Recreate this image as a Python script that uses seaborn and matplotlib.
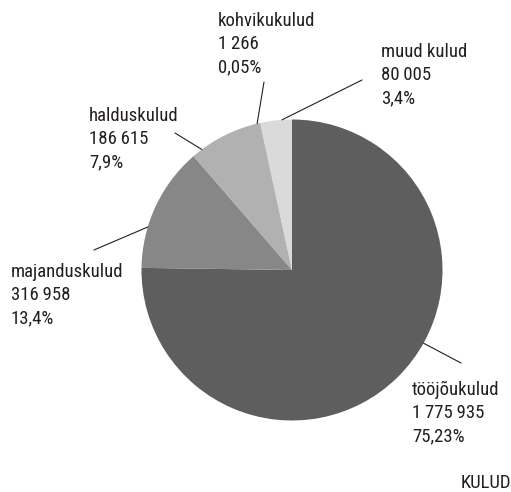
import numpy as np
import matplotlib
matplotlib.use('Agg')
import matplotlib.pyplot as plt
from matplotlib import font_manager
import seaborn as sns

# data
categories = ['tööjõukulud', 'majanduskulud', 'halduskulud', 'kohvikukulud', 'muud kulud']
amounts = [1775935, 316958, 186615, 1266, 80005]
pct_labels = ['75,23%', '13,4%', '7,9%', '0,05%', '3,4%']
title = 'KULUD'

colors = ['#5e5e5e', '#878787', '#b1b1b1', '#8f8f8f', '#dadada']

sns.set_style('white')

# pick a narrow face if one is around
installed = {f.name for f in font_manager.fontManager.ttflist}
font_name, fs = 'Roboto', 12
for name, size in [('Roboto Condensed', 13.5), ('Liberation Sans Narrow', 13.5),
                   ('Noto Sans Condensed', 13.5), ('Open Sans Condensed', 13.5),
                   ('Roboto', 12)]:
    if name in installed:
        font_name, fs = name, size
        break
plt.rcParams['font.family'] = [font_name, 'DejaVu Sans']

W, H = 511, 492
fig = plt.figure(figsize=(W / 100, H / 100), dpi=100)
ax = fig.add_axes([0, 0, 1, 1])

cx, cy, r = 292, H - 270, 150.5
wedges, _ = ax.pie(amounts, colors=colors, startangle=90, counterclock=False,
                   center=(cx, cy), radius=r, frame=True,
                   wedgeprops=dict(linewidth=0))
ax.set_xlim(0, W)
ax.set_ylim(0, H)
ax.set_aspect('equal')
ax.axis('off')

# label layout: text left x, first baseline (image px), leader angle, leader outer end
label_pos = [(412, 395), (11, 277), (89, 121), (218, 26), (381, 57)]
leader_ang = [-29.1, 163.4, 126.8, 103.4, 93.8]
leader_end = [(461, 363), (94, 250), (175, 133), (264, 82), (362, 80)]

step = 23.3

def fmt(v):
    # narrow space as thousands separator
    return '{:,}'.format(v).replace(',', '\u202f')

for name, val, pct, (tx, ty), ang, (ex, ey) in zip(categories, amounts, pct_labels,
                                                   label_pos, leader_ang, leader_end):
    for i, line in enumerate([name, fmt(val), pct]):
        ax.text(tx, H - ty - i * step, line, fontsize=fs, color='#231f20',
                ha='left', va='baseline')
    a = np.deg2rad(ang)
    sx, sy = cx + r * np.cos(a), cy + r * np.sin(a)
    ax.plot([sx, ex], [sy, H - ey], color='#231f20', lw=0.8)

ax.text(461, H - 488, title, fontsize=fs, color='#231f20', ha='left', va='baseline')

fig.savefig('out.png', dpi=100)
